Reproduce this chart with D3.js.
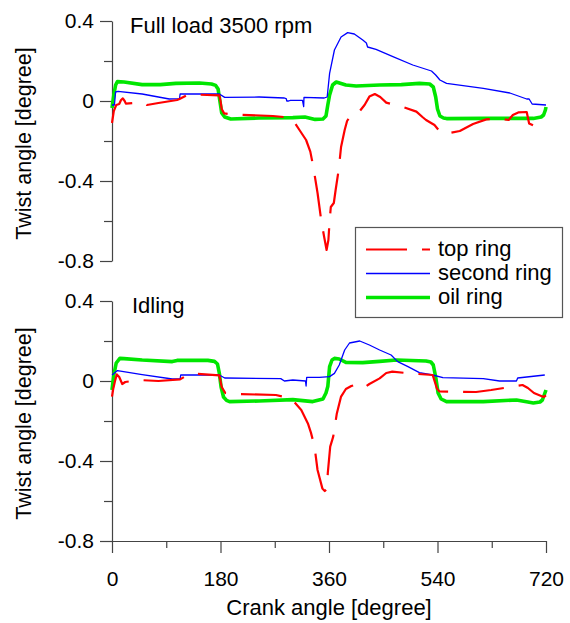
<!DOCTYPE html>
<html>
<head>
<meta charset="utf-8">
<script src="https://cdn.jsdelivr.net/npm/d3@7"></script>
<style>
  html, body { margin: 0; padding: 0; background: #fff; }
  svg { display: block; font-family: "Liberation Sans", Arial, sans-serif; }
</style>
</head>
<body>
<div id="chart"></div>
<script>
// crank angle [deg], twist angle [deg]
const fullTop = [[0,-0.11],[3,-0.05],[7,-0.02],[12,-0.015],[15,0.005],[18,0.013],[21,0.0],[23,-0.013],[35,-0.01],[50,-0.005],[58,-0.02],[77,-0.01],[108,0.005],[112,0.01],[125,0.03],[131,0.033],[178,0.028],[180,0.0],[182,-0.04],[186,-0.062],[200,-0.067],[267,-0.075],[292,-0.082],[300,-0.095],[311,-0.145],[322,-0.195],[329,-0.253],[334,-0.33],[341,-0.46],[347,-0.595],[352,-0.68],[356,-0.745],[359,-0.695],[361,-0.6],[363,-0.53],[368,-0.51],[371,-0.445],[376,-0.345],[380,-0.23],[386,-0.145],[390,-0.1],[395,-0.078],[408,-0.062],[419,-0.02],[427,0.022],[436,0.035],[445,0.02],[455,-0.008],[469,-0.02],[483,-0.03],[505,-0.053],[515,-0.08],[521,-0.095],[535,-0.12],[546,-0.16],[560,-0.16],[577,-0.15],[599,-0.115],[621,-0.092],[643,-0.087],[658,-0.095],[665,-0.07],[674,-0.057],[688,-0.055],[692,-0.112],[704,-0.13],[712,-0.125],[720,-0.11]];
const fullSecond = [[0,-0.02],[4,-0.02],[6,0.045],[10,0.048],[50,0.035],[95,0.01],[112,0.012],[113,0.035],[178,0.035],[187,0.018],[244,0.02],[286,0.015],[289,0.012],[290,0.0],[293,0.0],[296,0.003],[316,0.003],[318,-0.028],[318.5,0.018],[352,0.015],[357,0.02],[361,0.138],[369,0.255],[380,0.32],[391,0.342],[402,0.335],[416,0.305],[422,0.29],[424,0.27],[438,0.258],[466,0.222],[499,0.18],[530,0.15],[537,0.13],[544,0.105],[555,0.088],[616,0.063],[660,0.04],[688,0.01],[692,0.01],[697,-0.015],[720,-0.02]];
const fullOil = [[0,-0.035],[3,0.03],[6,0.08],[9,0.097],[20,0.095],[50,0.082],[80,0.082],[106,0.088],[145,0.09],[165,0.085],[172,0.078],[176,0.06],[179,0.0],[182,-0.06],[187,-0.08],[197,-0.09],[244,-0.085],[300,-0.083],[320,-0.08],[337,-0.092],[350,-0.09],[355,-0.075],[358,-0.02],[361,0.03],[366,0.08],[372,0.095],[388,0.08],[405,0.075],[444,0.08],[480,0.082],[510,0.088],[527,0.085],[533,0.07],[537,0.02],[540,-0.04],[544,-0.075],[550,-0.085],[555,-0.088],[616,-0.087],[699,-0.087],[712,-0.08],[716,-0.07],[719,-0.045],[720,-0.03]];

const idleTop = [[0,-0.078],[2,-0.04],[5,0.0],[8,0.033],[12,0.02],[17,-0.015],[22,-0.005],[45,0.005],[77,0.0],[113,0.008],[125,0.03],[131,0.038],[178,0.028],[180,0.0],[182,-0.03],[188,-0.06],[203,-0.065],[272,-0.07],[297,-0.087],[314,-0.145],[325,-0.212],[330,-0.258],[336,-0.328],[341,-0.445],[349,-0.537],[353,-0.55],[357,-0.537],[358,-0.46],[362,-0.328],[367,-0.278],[373,-0.162],[380,-0.078],[388,-0.04],[397,-0.025],[408,-0.015],[419,-0.032],[427,-0.015],[444,0.013],[455,0.04],[465,0.047],[494,0.038],[532,0.03],[539,-0.037],[543,-0.052],[604,-0.055],[629,-0.045],[681,-0.02],[690,-0.035],[700,-0.06],[716,-0.08],[720,-0.072]];
const idleSecond = [[0,0.03],[9,0.052],[50,0.032],[100,0.01],[113,0.01],[114,0.03],[178,0.03],[187,0.015],[280,0.012],[286,0.0],[300,0.005],[321,0.0],[322,-0.025],[323,0.018],[344,0.018],[361,0.022],[369,0.038],[377,0.08],[386,0.155],[394,0.19],[411,0.2],[427,0.18],[444,0.155],[463,0.13],[474,0.097],[491,0.072],[510,0.042],[532,0.03],[549,0.017],[616,0.012],[643,0.0],[671,0.0],[673,0.015],[718,0.03]];
const idleOil = [[0,-0.045],[3,0.03],[7,0.09],[13,0.113],[20,0.112],[50,0.105],[100,0.097],[108,0.103],[159,0.103],[170,0.098],[175,0.085],[178,0.04],[181,-0.03],[185,-0.08],[190,-0.097],[195,-0.103],[244,-0.1],[300,-0.093],[333,-0.103],[350,-0.09],[355,-0.06],[358,-0.028],[361,0.072],[365,0.105],[369,0.113],[377,0.11],[388,0.093],[416,0.092],[444,0.098],[472,0.105],[521,0.1],[529,0.095],[533,0.08],[537,0.02],[541,-0.06],[546,-0.09],[555,-0.103],[616,-0.103],[671,-0.095],[690,-0.105],[699,-0.11],[710,-0.105],[714,-0.095],[717,-0.07],[720,-0.045]];

const xMajor = [0, 180, 360, 540, 720];
const xMinor = [90, 270, 450, 630];
const yMajor = [0.4, 0, -0.4, -0.8];
const yMinor = [0.2, -0.2, -0.6];
const legendNames = ['top ring', 'second ring', 'oil ring'];

const W = 570, H = 623;
const FONT = '"Liberation Sans", Arial, sans-serif';
const AXIS = '#444';

const series = [
  { key: 'oil', color: '#00e600', width: 3.6, dash: null },
  { key: 'second', color: '#0000ff', width: 1.3, dash: null },
  { key: 'top', color: '#ff0000', width: 2.2, dash: '41,15' },
];

const panels = [
  { title: 'Full load 3500 rpm', tx: 130, ty: 32.5, top: 21, bottom: 261, xAxis: false,
    data: { top: fullTop, second: fullSecond, oil: fullOil } },
  { title: 'Idling', tx: 132, ty: 313, top: 301, bottom: 541, xAxis: true,
    data: { top: idleTop, second: idleSecond, oil: idleOil } },
];

const svg = d3.select('#chart').append('svg')
  .attr('width', W).attr('height', H);

const x = d3.scaleLinear().domain([0, 720]).range([112, 546]);

const styleAxis = (g) => {
  g.selectAll('path, line').attr('stroke', AXIS).attr('stroke-width', 1.2);
  g.selectAll('text').attr('fill', '#000').style('font-family', FONT).style('font-size', '21px');
};

panels.forEach((p) => {
  const y = d3.scaleLinear().domain([-0.8, 0.4]).range([p.bottom, p.top]);

  // minor ticks first, no labels
  svg.append('g')
    .attr('transform', `translate(${x(0)},0)`)
    .call(d3.axisLeft(y).tickValues(yMinor).tickSize(8).tickSizeOuter(0).tickFormat(''))
    .call(styleAxis)
    .call((g) => g.select('.domain').remove());

  svg.append('g')
    .attr('transform', `translate(${x(0)},0)`)
    .call(d3.axisLeft(y).tickValues(yMajor).tickSize(12).tickSizeOuter(0).tickPadding(6)
      .tickFormat((d) => (d === 0 ? '0' : String(d))))
    .call(styleAxis);

  if (p.xAxis) {
    svg.append('g')
      .attr('transform', `translate(0,${p.bottom})`)
      .call(d3.axisBottom(x).tickValues(xMinor).tickSize(7).tickSizeOuter(0).tickFormat(''))
      .call(styleAxis)
      .call((g) => g.select('.domain').remove());
    svg.append('g')
      .attr('transform', `translate(0,${p.bottom})`)
      .call(d3.axisBottom(x).tickValues(xMajor).tickSize(12).tickSizeOuter(0).tickPadding(18))
      .call(styleAxis);
  }

  const line = d3.line().x((d) => x(d[0])).y((d) => y(d[1]));
  series.forEach((s) => {
    svg.append('path')
      .datum(p.data[s.key])
      .attr('d', line)
      .attr('fill', 'none')
      .attr('stroke', s.color)
      .attr('stroke-width', s.width)
      .attr('stroke-linejoin', 'round')
      .attr('stroke-dasharray', s.dash);
  });

  svg.append('text')
    .attr('x', p.tx).attr('y', p.ty)
    .style('font-family', FONT).style('font-size', '22px')
    .text(p.title);

  svg.append('text')
    .attr('transform', `translate(31,${(p.top + p.bottom) / 2 + 2.5}) rotate(-90)`)
    .attr('text-anchor', 'middle')
    .style('font-family', FONT).style('font-size', '21.5px')
    .text('Twist angle [degree]');
});

svg.append('text')
  .attr('x', 329).attr('y', 615)
  .attr('text-anchor', 'middle')
  .style('font-family', FONT).style('font-size', '22px')
  .text('Crank angle [degree]');

// legend
const legend = svg.append('g');
legend.append('rect')
  .attr('x', 355.5).attr('y', 227.5).attr('width', 207).attr('height', 90)
  .attr('fill', '#fff').attr('stroke', '#555').attr('stroke-width', 1.2);

const legendStyles = [series[2], series[1], series[0]];
legendNames.forEach((name, i) => {
  const ry = 249.5 + i * 24;
  const s = legendStyles[i];
  legend.append('line')
    .attr('x1', 366).attr('x2', 430).attr('y1', ry).attr('y2', ry)
    .attr('stroke', s.color).attr('stroke-width', s.width)
    .attr('stroke-dasharray', s.dash);
  legend.append('text')
    .attr('x', 438).attr('y', ry + 6.5)
    .style('font-family', FONT).style('font-size', '22px')
    .text(name);
});
</script>
</body>
</html>
